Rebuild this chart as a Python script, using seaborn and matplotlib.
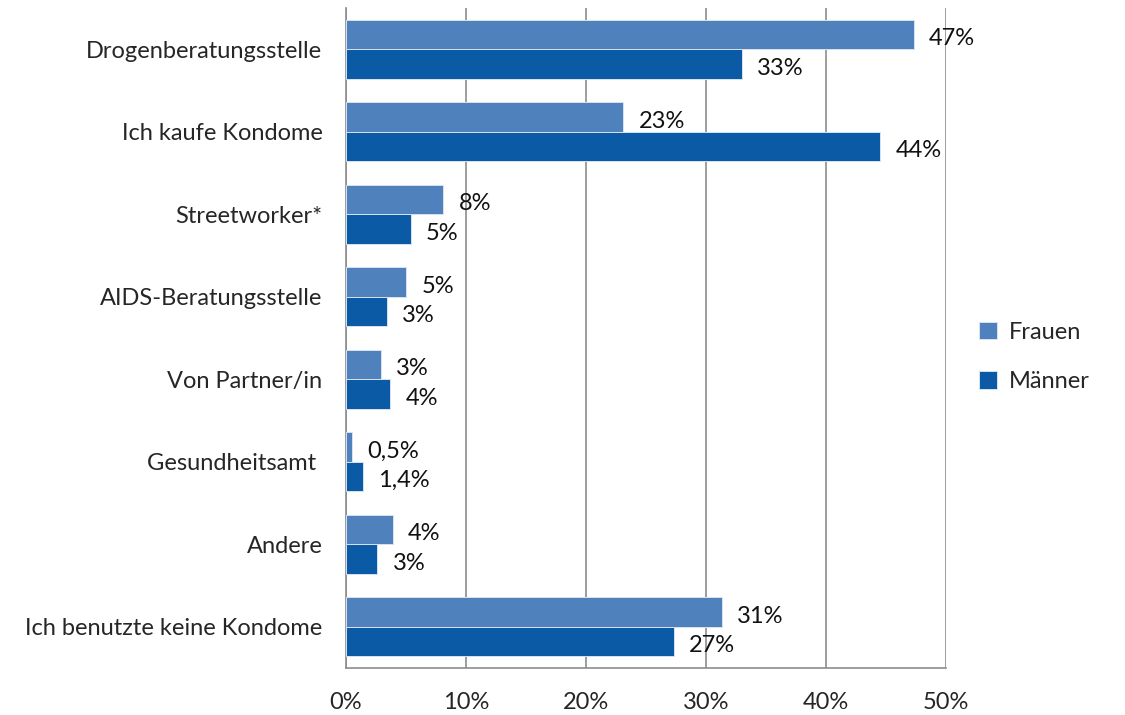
import pandas as pd
import matplotlib.pyplot as plt
import seaborn as sns

categories = ['Drogenberatungsstelle', 'Ich kaufe Kondome', 'Streetworker*',
              'AIDS-Beratungsstelle', 'Von Partner/in', 'Gesundheitsamt ',
              'Andere', 'Ich benutzte keine Kondome']
frauen = [47.3, 23.1, 8.1, 5.0, 2.9, 0.5, 3.9, 31.3]
maenner = [33.0, 44.5, 5.4, 3.4, 3.7, 1.4, 2.6, 27.3]
frauen_labels = ['47%', '23%', '8%', '5%', '3%', '0,5%', '4%', '31%']
maenner_labels = ['33%', '44%', '5%', '3%', '4%', '1,4%', '3%', '27%']
xticks = [0, 10, 20, 30, 40, 50]

df = pd.DataFrame({
    'Kategorie': categories * 2,
    'Wert': frauen + maenner,
    'Geschlecht': ['Frauen'] * len(categories) + ['Männer'] * len(categories),
})

sns.set_style('white')
plt.rcParams['font.family'] = ['Lato', 'DejaVu Sans']
fs = 17

fig = plt.figure(figsize=(11.25, 7.15), dpi=100)
ax = fig.add_axes([346 / 1125, 1 - 668 / 715, 600 / 1125, 660 / 715])

sns.barplot(data=df, y='Kategorie', x='Wert', hue='Geschlecht', orient='h',
            palette=['#4f81bd', '#0a5aa6'], width=0.72, saturation=1,
            edgecolor='#d8e2ef', linewidth=0.7, ax=ax, zorder=3)

# value labels, sitting a touch below the bar centre like in the original
for cont, labs in zip(ax.containers, [frauen_labels, maenner_labels]):
    for t in ax.bar_label(cont, labels=labs, padding=11, fontsize=fs, color='#111111'):
        t.xyann = (t.xyann[0], -3)

ax.set_xlim(0, 50)
ax.set_xticks(xticks)
ax.set_xticklabels([f'{t}%' for t in xticks])
ax.grid(axis='x', color='#8c8c8c', linewidth=1.2, zorder=0)
ax.set_axisbelow(True)
for s in ['top', 'right']:
    ax.spines[s].set_visible(False)
for s in ['left', 'bottom']:
    ax.spines[s].set_color('#8c8c8c')
    ax.spines[s].set_linewidth(1.2)
ax.tick_params(axis='x', length=0, pad=17, labelsize=fs)
ax.tick_params(axis='y', length=0, pad=17, labelsize=fs)
ax.set_xlabel('')
ax.set_ylabel('')

ax.legend_.remove()
handles, labels = ax.get_legend_handles_labels()
fig.legend(handles, labels, loc='center left', bbox_to_anchor=(958 / 1125, 1 - 357 / 715),
           frameon=False, fontsize=fs, handlelength=0.75, handleheight=0.75,
           labelspacing=1.2, handletextpad=0.5)

fig.savefig('out.png', dpi=100)
